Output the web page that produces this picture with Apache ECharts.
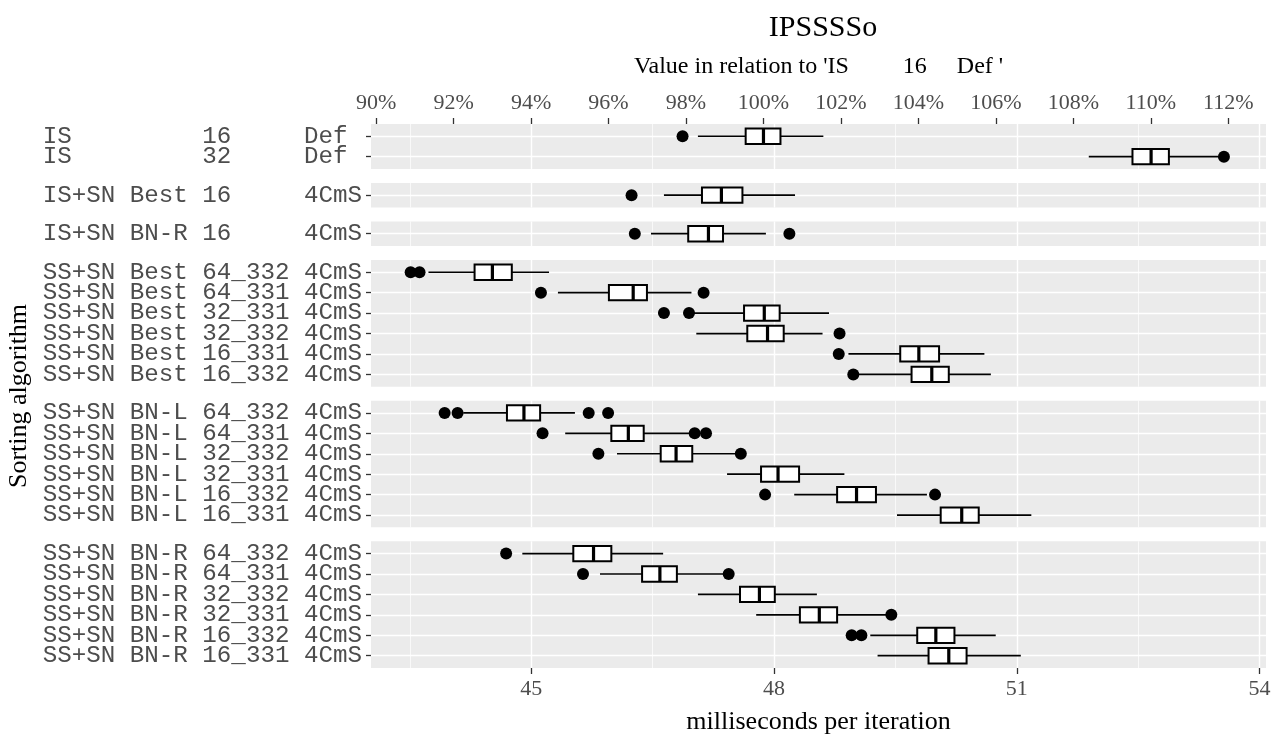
<!DOCTYPE html>
<html>
<head>
<meta charset="utf-8">
<script src="https://cdn.jsdelivr.net/npm/echarts@6/dist/echarts.min.js"></script>
<style>html,body{margin:0;padding:0;background:#fff}#c{width:1283px;height:740px}</style>
</head>
<body>
<div id="c"></div>
<script>
// ---- data ----
const rowLabels = [
 'IS         16     Def ',
 'IS         32     Def ',
 'IS+SN Best 16     4CmS',
 'IS+SN BN-R 16     4CmS',
 'SS+SN Best 64_332 4CmS',
 'SS+SN Best 64_331 4CmS',
 'SS+SN Best 32_331 4CmS',
 'SS+SN Best 32_332 4CmS',
 'SS+SN Best 16_331 4CmS',
 'SS+SN Best 16_332 4CmS',
 'SS+SN BN-L 64_332 4CmS',
 'SS+SN BN-L 64_331 4CmS',
 'SS+SN BN-L 32_332 4CmS',
 'SS+SN BN-L 32_331 4CmS',
 'SS+SN BN-L 16_332 4CmS',
 'SS+SN BN-L 16_331 4CmS',
 'SS+SN BN-R 64_332 4CmS',
 'SS+SN BN-R 64_331 4CmS',
 'SS+SN BN-R 32_332 4CmS',
 'SS+SN BN-R 32_331 4CmS',
 'SS+SN BN-R 16_332 4CmS',
 'SS+SN BN-R 16_331 4CmS'
];
const panelSizes = [2, 1, 1, 6, 6, 6];
const whiskerLow  = [47.06, 51.89, 46.64, 46.48, 43.73, 45.33, 47.00, 47.04, 48.92, 49.00, 44.16, 45.42, 46.06, 47.42, 48.25, 49.52, 44.89, 45.85, 47.06, 47.78, 49.19, 49.28];
const q1          = [47.65, 52.43, 47.11, 46.94, 44.30, 45.96, 47.63, 47.67, 49.56, 49.70, 44.70, 45.99, 46.60, 47.84, 48.78, 50.06, 45.52, 46.37, 47.58, 48.32, 49.77, 49.91];
const median      = [47.87, 52.66, 47.35, 47.19, 44.52, 46.26, 47.88, 47.92, 49.79, 49.95, 44.91, 46.20, 46.79, 48.05, 49.02, 50.32, 45.77, 46.59, 47.82, 48.56, 50.00, 50.16];
const q3          = [48.08, 52.88, 47.61, 47.37, 44.76, 46.43, 48.07, 48.12, 50.04, 50.16, 45.11, 46.39, 46.99, 48.31, 49.26, 50.53, 45.99, 46.80, 48.01, 48.78, 50.23, 50.38];
const whiskerHigh = [48.61, 53.49, 48.26, 47.90, 45.22, 46.98, 48.68, 48.60, 50.60, 50.68, 45.54, 46.98, 47.52, 48.87, 49.89, 51.18, 46.63, 47.37, 48.53, 49.40, 50.74, 51.05];
const outliers = [
 [46.87], [53.56], [46.24], [46.28, 48.19],
 [43.51, 43.62], [45.12, 47.13], [46.64, 46.95], [48.81], [48.80], [48.98],
 [43.93, 44.09, 45.71, 45.95], [45.14, 47.02, 47.16], [45.83, 47.59], [], [47.89, 49.99], [],
 [44.69], [45.64, 47.44], [], [49.45], [48.96, 49.08], []
];
const bottomTicks = [45, 48, 51, 54];
const minorTicks = [43.5, 46.5, 49.5, 52.5];
const topTicks = [90, 92, 94, 96, 98, 100, 102, 104, 106, 108, 110, 112];
const xMin = 43.02, xMax = 54.08;
const refMedian = median[0];

// ---- layout ----
const unit = 20.43, gap = 14, top0 = 124, gridLeft = 371, gridRight = 17;
const SERIF = 'Liberation Serif';
const MONO = 'Liberation Mono';

const grids = [], xAxes = [], yAxes = [], series = [];
let curTop = top0, start = 0;
panelSizes.forEach((n, i) => {
  const h = (n + 0.2) * unit;
  grids.push({left: gridLeft, right: gridRight, top: curTop, height: h, show: true,
              backgroundColor: '#EBEBEB', borderWidth: 0, containLabel: false});
  const isLast = i === panelSizes.length - 1;
  const majorIdx = xAxes.length;
  xAxes.push({
    type: 'value', gridIndex: i, min: xMin, max: xMax, position: 'bottom',
    axisLine: {show: false, onZero: false},
    axisTick: {show: isLast, customValues: bottomTicks, length: 6, lineStyle: {color: '#333333', width: 1.3}},
    axisLabel: {show: isLast, customValues: bottomTicks, fontFamily: SERIF, fontSize: 22, color: '#4D4D4D', margin: 10},
    splitLine: {show: true, lineStyle: {color: '#FFFFFF', width: 1.4}},
    name: isLast ? 'milliseconds per iteration' : '',
    nameLocation: 'middle', nameGap: 41,
    nameTextStyle: {fontFamily: SERIF, fontSize: 26, color: '#000'}
  });
  xAxes.push({
    type: 'value', gridIndex: i, min: xMin, max: xMax, position: 'bottom',
    axisLine: {show: false, onZero: false},
    axisTick: {show: false, customValues: minorTicks},
    axisLabel: {show: false, customValues: minorTicks},
    splitLine: {show: true, lineStyle: {color: '#FFFFFF', width: 0.7}}
  });
  const rows = [], evenRows = [], oddRows = [];
  for (let r = 0; r < n; r++) { rows.push(r); (r % 2 ? oddRows : evenRows).push(r); }
  const names = rowLabels.slice(start, start + n);
  const yIdx = yAxes.length;
  const labelStyle = {fontFamily: MONO, fontSize: 24.2, color: '#4D4D4D', margin: 9,
                      formatter: v => names[Math.round(v)]};
  // axis carrying ticks, gridlines and even-row labels
  yAxes.push({
    type: 'value', gridIndex: i, inverse: true, min: -0.6, max: n - 0.4, position: 'left',
    axisLine: {show: false, onZero: false},
    axisTick: {show: true, customValues: rows, length: 5, lineStyle: {color: '#333333', width: 1.3}},
    axisLabel: Object.assign({show: true, customValues: evenRows}, labelStyle),
    splitLine: {show: true, lineStyle: {color: '#FFFFFF', width: 1.4}}
  });
  // axis carrying odd-row labels
  yAxes.push({
    type: 'value', gridIndex: i, inverse: true, min: -0.6, max: n - 0.4, position: 'left', offset: 0,
    axisLine: {show: false, onZero: false},
    axisTick: {show: false, customValues: oddRows.length ? oddRows : [0]},
    axisLabel: Object.assign({show: oddRows.length > 0, customValues: oddRows.length ? oddRows : [0]}, labelStyle),
    splitLine: {show: false}
  });
  const boxData = [], outData = [];
  for (let r = 0; r < n; r++) {
    const k = start + r;
    boxData.push([r, whiskerLow[k], q1[k], median[k], q3[k], whiskerHigh[k]]);
    outliers[k].forEach(v => outData.push([v, r]));
  }
  series.push({
    type: 'custom', xAxisIndex: majorIdx, yAxisIndex: yIdx, data: boxData,
    encode: {x: [1, 2, 3, 4, 5], y: 0}, z: 3,
    renderItem: (params, api) => {
      const row = api.value(0);
      const lo = api.coord([api.value(1), row]);
      const a = api.coord([api.value(2), row]);
      const m = api.coord([api.value(3), row]);
      const b = api.coord([api.value(4), row]);
      const hi = api.coord([api.value(5), row]);
      const bh = api.size([0, 1])[1] * 0.75;
      const y = m[1];
      return {type: 'group', children: [
        {type: 'line', shape: {x1: lo[0], y1: y, x2: a[0], y2: y}, style: {stroke: '#000', lineWidth: 1.7}},
        {type: 'line', shape: {x1: b[0], y1: y, x2: hi[0], y2: y}, style: {stroke: '#000', lineWidth: 1.7}},
        {type: 'rect', shape: {x: a[0], y: y - bh / 2, width: b[0] - a[0], height: bh},
         style: {fill: '#FFFFFF', stroke: '#000', lineWidth: 2}},
        {type: 'line', shape: {x1: m[0], y1: y - bh / 2, x2: m[0], y2: y + bh / 2}, style: {stroke: '#000', lineWidth: 3.2}}
      ]};
    }
  });
  series.push({
    type: 'scatter', xAxisIndex: majorIdx, yAxisIndex: yIdx, data: outData,
    symbol: 'circle', symbolSize: 12, itemStyle: {color: '#000', opacity: 1}, z: 4, silent: true
  });
  curTop += h + gap;
  start += n;
});

// top secondary axis (percent of reference)
xAxes.push({
  type: 'value', gridIndex: 0, position: 'top',
  min: xMin / refMedian * 100, max: xMax / refMedian * 100,
  axisLine: {show: false, onZero: false},
  axisTick: {show: true, customValues: topTicks, length: 6, lineStyle: {color: '#333333', width: 1.3}},
  axisLabel: {show: true, customValues: topTicks, formatter: v => Math.round(v) + '%',
              fontFamily: SERIF, fontSize: 22, color: '#4D4D4D', margin: 10},
  splitLine: {show: false},
  name: "Value in relation to '" + rowLabels[0] + "'",
  nameLocation: 'middle', nameGap: 45,
  nameTextStyle: {fontFamily: SERIF, fontSize: 24, color: '#000'}
});

const chart = echarts.init(document.getElementById('c'), null, {renderer: 'canvas'});
chart.setOption({
  animation: false,
  backgroundColor: '#FFFFFF',
  title: {text: 'IPSSSSo', left: 818, top: 8, textAlign: 'center',
          textStyle: {fontFamily: SERIF, fontSize: 30, fontWeight: 'normal', color: '#000'}},
  grid: grids,
  xAxis: xAxes,
  yAxis: yAxes,
  series: series,
  graphic: [{
    type: 'text', x: 19, y: 396, rotation: Math.PI / 2,
    style: {text: 'Sorting algorithm', fontFamily: SERIF, fontSize: 26, fill: '#000',
            align: 'center', verticalAlign: 'middle'}
  }]
});
</script>
</body>
</html>
